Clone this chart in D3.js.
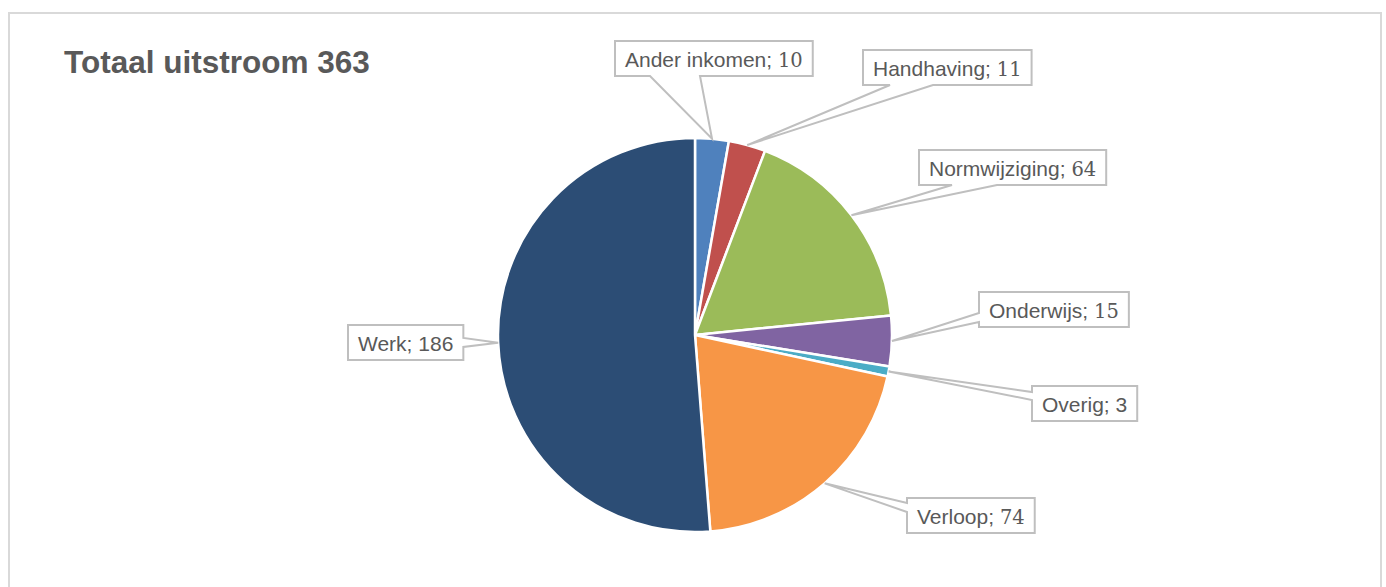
<!DOCTYPE html>
<html><head><meta charset="utf-8">
<script src="https://cdn.jsdelivr.net/npm/d3@7"></script>
<style>body{margin:0;background:#fff}svg{display:block}</style>
</head><body>
<svg id="c" width="1386" height="587"></svg>
<script>
// ---- data ----
const categories = ["Ander inkomen","Handhaving","Normwijziging","Onderwijs","Overig","Verloop","Werk"];
const values = [10, 11, 64, 15, 3, 74, 186];
const titleText = "Totaal uitstroom 363";

// ---- style / layout ----
const colors = ["#4f81bd","#c0504d","#9bbb59","#8064a2","#4bacc6","#f79646","#2c4d75"];
const serifNumbers = new Set(["Ander inkomen","Handhaving","Normwijziging","Onderwijs","Verloop"]);
// label box layout: left, top, pointer side and pointer base offsets along that side
const labelLayout = {
  "Ander inkomen": {x:615, y:41, side:"bottom", b:[35,85]},
  "Handhaving":    {x:863, y:50, side:"bottom", b:[27,70]},
  "Normwijziging": {x:919, y:150, side:"bottom", b:[33,78]},
  "Onderwijs":     {x:979, y:292, side:"left", b:[21,30]},
  "Overig":        {x:1032, y:386, side:"left", b:[6,14]},
  "Verloop":       {x:907, y:498, side:"left", b:[5,14]},
  "Werk":          {x:348, y:325, side:"right", b:[13,22]}
};
const cx = 695, cy = 335, R = 197;
const boxH = 35, padX = 10, fontSize = 21;

const svg = d3.select("#c");
svg.append("rect").attr("x",9).attr("y",13).attr("width",1372).attr("height",620)
  .attr("fill","#fff").attr("stroke","#d9d9d9").attr("stroke-width",2);

svg.append("text").attr("x",64).attr("y",73)
  .attr("font-family","Liberation Sans, Arial, sans-serif").attr("font-weight","bold")
  .attr("font-size",31.5).attr("fill","#595959").text(titleText);

const data = categories.map((c,i)=>({cat:c, value:values[i], color:colors[i]}));
const pie = d3.pie().sort(null).value(d=>d.value);
const arcs = pie(data);
const arc = d3.arc().innerRadius(0).outerRadius(R);

const g = svg.append("g").attr("transform",`translate(${cx},${cy})`);
g.selectAll("path").data(arcs).join("path")
  .attr("d",arc).attr("fill",d=>d.data.color)
  .attr("stroke","#fff").attr("stroke-width",2.5).attr("stroke-linejoin","round");

const lg = svg.append("g");
arcs.forEach(a=>{
  const L = labelLayout[a.data.cat];
  const mid = (a.startAngle + a.endAngle)/2;
  const tx = cx + R*Math.sin(mid), ty = cy - R*Math.cos(mid);
  const grp = lg.append("g");
  const t = grp.append("text").attr("x",L.x+padX).attr("y",L.y+26)
    .attr("font-family","Liberation Sans, Arial, sans-serif").attr("font-size",fontSize)
    .attr("fill","#595959");
  t.append("tspan").text(a.data.cat + "; ");
  const num = t.append("tspan").text(a.data.value);
  if (serifNumbers.has(a.data.cat)) num.attr("font-family","DejaVu Serif, serif").attr("font-size",19.5);
  const w = t.node().getComputedTextLength() + 2*padX;
  const x0=L.x, y0=L.y, x1=L.x+w, y1=L.y+boxH;
  let p;
  if (L.side==="bottom") {
    const b1=x0+L.b[0], b2=x0+L.b[1];
    p=`M${x0},${y0}L${x1},${y0}L${x1},${y1}L${b2},${y1}L${tx},${ty}L${b1},${y1}L${x0},${y1}Z`;
  } else if (L.side==="left") {
    const b1=y0+L.b[0], b2=y0+L.b[1];
    p=`M${x0},${y0}L${x1},${y0}L${x1},${y1}L${x0},${y1}L${x0},${b2}L${tx},${ty}L${x0},${b1}Z`;
  } else {
    const b1=y0+L.b[0], b2=y0+L.b[1];
    p=`M${x0},${y0}L${x1},${y0}L${x1},${b1}L${tx},${ty}L${x1},${b2}L${x1},${y1}L${x0},${y1}Z`;
  }
  grp.insert("rect","text").attr("x",x0).attr("y",y0).attr("width",w).attr("height",boxH).attr("fill","#fff");
  grp.insert("path","text").attr("d",p).attr("fill","none").attr("stroke","#bfbfbf").attr("stroke-width",2).attr("stroke-linejoin","miter");
});
</script>
</body></html>
